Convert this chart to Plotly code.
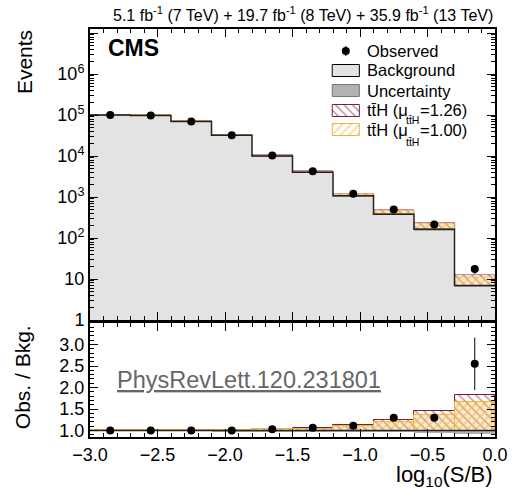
import plotly.graph_objects as go

# ---------------- data ----------------
bin_edges = [-3.0, -2.7, -2.4, -2.1, -1.8, -1.5, -1.2, -0.9, -0.6, -0.3, 0.0]
background = [1.0e5, 9.8e4, 7.0e4, 3.2e4, 1.0e4, 4.0e3, 1080, 380, 164, 6.9]
signal_sm = [240, 470, 560, 510, 280, 190, 111, 72, 58.5, 4.5]      # ttH at mu = 1
observed = [1.0e5, 9.8e4, 7.0e4, 3.2e4, 1.03e4, 4.25e3, 1200, 494, 213, 17.6]
observed_err = [316, 313, 265, 179, 101, 65, 35, 22, 14.6, 4.2]
bkg_rel_unc = [0.01, 0.01, 0.01, 0.015, 0.02, 0.02, 0.03, 0.04, 0.05, 0.07]
mu_fit = 1.26
mu_sm = 1.00

y_major_vals = [1, 10, 100, 1e3, 1e4, 1e5, 1e6, 1e7]
y_major_text = ["1", "10", "10<sup>2</sup>", "10<sup>3</sup>", "10<sup>4</sup>",
                "10<sup>5</sup>", "10<sup>6</sup>", ""]
ratio_ticks = [1.0, 1.5, 2.0, 2.5, 3.0]
x_ticks = [-3.0, -2.5, -2.0, -1.5, -1.0, -0.5, 0.0]

# ---------------- derived ----------------
centers = [(a + b) / 2 for a, b in zip(bin_edges[:-1], bin_edges[1:])]
widths = [b - a for a, b in zip(bin_edges[:-1], bin_edges[1:])]
sig_fit = [mu_fit * s for s in signal_sm]
sig_sm = [mu_sm * s for s in signal_sm]
ratio_obs = [o / b for o, b in zip(observed, background)]
ratio_err = [e / b for e, b in zip(observed_err, background)]
ratio_fit = [s / b for s, b in zip(sig_fit, background)]
ratio_sm = [s / b for s, b in zip(sig_sm, background)]

FONT = "Liberation Sans, Arial, Helvetica, sans-serif"
LIGHT = "#e3e3e3"
UNC = "#b2b2b2"
MAROON = "#7b1e3c"
YELLOW = "#f0b43a"

# canvas geometry
W, H = 519, 495
L, R, T, B = 90, 11, 29, 58
PW, PH = W - L - R, H - T - B


def px(x):
    return (x - L) / PW


def py(y):
    return (H - B - y) / PH


top_dom = [py(320), 1.0]
bot_dom = [0.0, py(323)]

fig = go.Figure()

# ---------- top panel ----------
fig.add_trace(go.Bar(x=centers, y=background, width=widths, marker=dict(color=LIGHT, line_width=0),
                     xaxis="x", yaxis="y", hoverinfo="skip"))
fig.add_trace(go.Bar(x=centers, y=[2 * b * u for b, u in zip(background, bkg_rel_unc)],
                     base=[b * (1 - u) for b, u in zip(background, bkg_rel_unc)], width=widths,
                     marker=dict(color=UNC, line_width=0), xaxis="x", yaxis="y"))
fig.add_trace(go.Bar(x=centers, y=sig_fit, base=background, width=widths,
                     marker=dict(color="white", line=dict(color=MAROON, width=0.6),
                                 pattern=dict(shape="\\", fgcolor=MAROON, bgcolor="white", size=6, solidity=0.25)),
                     xaxis="x", yaxis="y"))
fig.add_trace(go.Bar(x=centers, y=sig_sm, base=background, width=widths,
                     marker=dict(color="rgba(0,0,0,0)", line=dict(color=YELLOW, width=0.6),
                                 pattern=dict(shape="/", fgcolor=YELLOW, bgcolor="rgba(245,200,110,0.35)",
                                              size=6, solidity=0.35)),
                     xaxis="x", yaxis="y"))
fig.add_trace(go.Scatter(x=bin_edges, y=background + [background[-1]], mode="lines",
                         line=dict(color="#222222", width=1.5, shape="hv"), xaxis="x", yaxis="y"))
fig.add_trace(go.Scatter(x=centers, y=observed, mode="markers",
                         marker=dict(color="black", size=8),
                         error_y=dict(type="data", array=observed_err, color="black", thickness=1, width=0),
                         xaxis="x", yaxis="y"))

# ---------- ratio panel ----------
fig.add_trace(go.Bar(x=centers, y=[2 * u for u in bkg_rel_unc], base=[1 - u for u in bkg_rel_unc],
                     width=widths, marker=dict(color=UNC, line_width=0), xaxis="x2", yaxis="y2"))
fig.add_trace(go.Bar(x=centers, y=ratio_fit, base=1, width=widths,
                     marker=dict(color="white", line=dict(color=MAROON, width=1),
                                 pattern=dict(shape="\\", fgcolor=MAROON, bgcolor="white", size=6, solidity=0.25)),
                     xaxis="x2", yaxis="y2"))
fig.add_trace(go.Bar(x=centers, y=ratio_sm, base=1, width=widths,
                     marker=dict(color="rgba(0,0,0,0)", line=dict(color=YELLOW, width=1),
                                 pattern=dict(shape="/", fgcolor=YELLOW, bgcolor="rgba(245,200,110,0.35)",
                                              size=6, solidity=0.35)),
                     xaxis="x2", yaxis="y2"))
fig.add_trace(go.Scatter(x=[bin_edges[0], bin_edges[-1]], y=[1, 1], mode="lines",
                         line=dict(color="#222222", width=1.5), xaxis="x2", yaxis="y2"))
fig.add_trace(go.Scatter(x=centers, y=ratio_obs, mode="markers",
                         marker=dict(color="black", size=8),
                         error_y=dict(type="data", array=ratio_err, color="black", thickness=1, width=0),
                         xaxis="x2", yaxis="y2"))

# ---------- legend (drawn in a pixel-coordinate overlay) ----------
leg_rows = [51, 70.5, 90.5, 110.5, 129.5]
sx0, sx1 = 340, 368
fig.add_trace(go.Scatter(x=[(sx0 + sx1) / 2], y=[leg_rows[0]], mode="markers",
                         marker=dict(color="black", size=8),
                         error_y=dict(type="constant", value=5, color="black", thickness=1, width=0),
                         xaxis="x3", yaxis="y3"))


def swatch(row, **kw):
    fig.add_trace(go.Scatter(x=[sx0, sx1, sx1, sx0, sx0], y=[row - 6, row - 6, row + 6, row + 6, row - 6],
                             mode="lines", fill="toself", xaxis="x3", yaxis="y3", **kw))


swatch(leg_rows[1], fillcolor=LIGHT, line=dict(color="black", width=1))
swatch(leg_rows[2], fillcolor=UNC, line=dict(color="#777777", width=1))
swatch(leg_rows[3], fillcolor="white", line=dict(color=MAROON, width=1),
       fillpattern=dict(shape="\\", fgcolor=MAROON, bgcolor="white", size=6, solidity=0.25))
swatch(leg_rows[4], fillcolor="white", line=dict(color=YELLOW, width=1),
       fillpattern=dict(shape="/", fgcolor=YELLOW, bgcolor="white", size=6, solidity=0.3))

ann = []


def text(x, y, s, size, xanchor="left", yanchor="middle", angle=0, color="black"):
    ann.append(dict(x=px(x), y=py(y), xref="paper", yref="paper", text=s, showarrow=False,
                    xanchor=xanchor, yanchor=yanchor, textangle=angle,
                    font=dict(family=FONT, size=size, color=color)))


tth = "tt\u0304H"
text(374, leg_rows[0], "Observed", 16.5)
text(374, leg_rows[1], "Background", 16.5)
text(374, leg_rows[2], "Uncertainty", 16.5)
text(374, leg_rows[3], tth + " (\u03bc", 16.5)
text(429, leg_rows[3], "=1.26)", 16.5)
text(423, 120.5, tth, 10.5, xanchor="center")
text(374, leg_rows[4], tth + " (\u03bc", 16.5)
text(429, leg_rows[4], "=1.00)", 16.5)
text(423, 141.5, tth, 10.5, xanchor="center")

text(508, 14, "5.1 fb<sup>-1</sup> (7 TeV) + 19.7 fb<sup>-1</sup> (8 TeV) + 35.9 fb<sup>-1</sup> (13 TeV)",
     16, xanchor="right")
text(106, 48, "<b>CMS</b>", 23)
text(22, 28, "Events", 21, xanchor="center", yanchor="top", angle=-90)
text(20, 377, "Obs. / Bkg.", 21, xanchor="center", angle=-90)
text(508, 476, "log<sub>10</sub>(S/B)", 22, xanchor="right")
text(116, 380, "<u>PhysRevLett.120.231801</u>", 23.5, color="#666666")

minor_log = [m * 10 ** k for k in range(0, 7) for m in range(2, 10)]
minor_ratio = [round(0.9 + 0.1 * i, 2) for i in range(27)]

axis_common = dict(showline=True, linecolor="black", linewidth=2, mirror="allticks", ticks="inside",
                   tickcolor="black", tickwidth=1.3, showgrid=False, zeroline=False,
                   tickfont=dict(family=FONT, size=18, color="black"))

fig.update_layout(
    width=W, height=H, margin=dict(l=L, r=R, t=T, b=B),
    paper_bgcolor="white", plot_bgcolor="rgba(0,0,0,0)",
    barmode="overlay", bargap=0, showlegend=False, annotations=ann,
    xaxis=dict(domain=[0, 1], anchor="y", range=[-3, 0], tickvals=x_ticks, showticklabels=False,
               ticklen=8, minor=dict(dtick=0.1, tick0=0, ticks="inside", ticklen=4, tickcolor="black",
                                     showgrid=False), **axis_common),
    yaxis=dict(domain=top_dom, anchor="x", type="log", range=[0, 7.1], tickvals=y_major_vals,
               ticktext=y_major_text, ticklen=8,
               minor=dict(tickmode="array", tickvals=minor_log, ticks="inside", ticklen=4,
                          tickcolor="black", showgrid=False), **axis_common),
    xaxis2=dict(domain=[0, 1], anchor="y2", range=[-3, 0], tickvals=x_ticks, tickformat=".1f",
                ticklen=8, minor=dict(dtick=0.1, tick0=0, ticks="inside", ticklen=4, tickcolor="black",
                                      showgrid=False), **axis_common),
    yaxis2=dict(domain=bot_dom, anchor="x2", range=[0.85, 3.5], tickvals=ratio_ticks, tickformat=".1f",
                ticklen=8, minor=dict(tickmode="array", tickvals=minor_ratio, ticks="inside", ticklen=4,
                                      tickcolor="black", showgrid=False), **axis_common),
    xaxis3=dict(domain=[0, 1], anchor="y3", range=[L, W - R], visible=False, fixedrange=True),
    yaxis3=dict(domain=[0, 1], anchor="x3", range=[H - B, T], visible=False, fixedrange=True),
)

fig.write_html("out.html")
